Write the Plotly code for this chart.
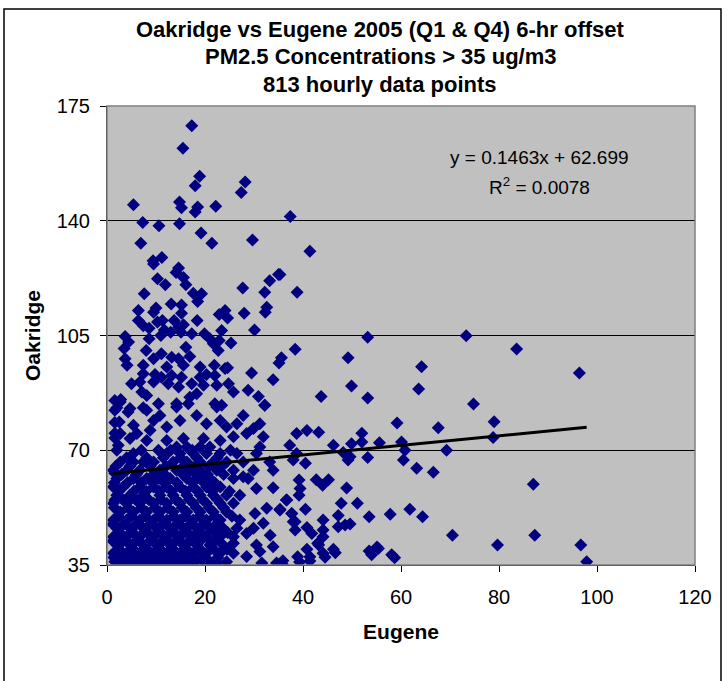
import plotly.graph_objects as go

# ---- data (Eugene = x, Oakridge = y) ----
# sparse / outlying points
sparse_eugene = [
    17.3, 15.5, 18.9, 18.0, 28.2, 27.4, 5.4, 14.8, 15.2, 18.5, 18.0, 22.2, 7.3, 10.6, 14.8, 37.4,
    6.9, 19.2, 21.4, 29.7, 11.2, 9.4, 41.4, 35.3,
    9.5, 14.6, 14.1, 10.3, 11.9, 15.6, 16.1, 35.0, 33.2, 27.7, 32.2, 38.8, 7.6, 17.6, 19.3, 18.5,
    13.1, 15.2, 6.4, 9.5, 10.0, 15.2, 22.9, 24.1, 24.6, 28.0, 32.6, 32.3, 18.4, 13.7, 6.4, 7.4,
    8.6, 10.3, 11.3, 11.7, 13.0, 14.6, 15.6, 15.1, 17.3, 19.9, 23.4, 30.1, 8.6, 11.0, 3.7, 4.4,
    3.5, 8.0, 21.0, 21.7, 22.9, 22.7, 25.3, 16.1, 16.9, 38.4, 35.6, 35.1, 3.7, 4.1, 9.5, 11.1,
    13.2, 14.6, 7.4, 12.2, 15.6, 19.0, 21.9, 24.1, 24.6, 29.5, 33.9, 7.4, 9.8, 11.1, 13.2, 15.2,
    19.0, 20.3, 22.0, 5.0, 6.7, 9.5, 12.5, 14.6, 17.3, 19.7, 22.4, 24.8, 25.8, 28.8, 30.9, 32.2,
    2.8, 7.1, 8.1, 10.5, 14.2, 16.9, 18.3, 22.0, 23.4, 2.0, 4.7, 7.4,
    2.7, 4.3, 2.5, 5.4, 2.7, 6.1, 8.1, 9.5, 10.8, 8.8, 12.2, 14.2, 16.6, 14.9, 18.3, 20.3, 22.4,
    23.1, 24.4, 26.5, 27.8, 29.9, 31.2, 32.2, 31.9, 28.5, 25.8, 23.1, 19.7, 15.6, 12.2, 8.1, 4.7,
    2.3, 37.3, 38.7,
    53.2, 73.3, 83.6, 49.2, 64.2, 96.4, 49.9, 63.6, 43.7, 53.2, 74.8, 59.2, 79.0, 67.6, 40.8, 43.2,
    52.0, 78.8, 46.2, 49.9, 52.0, 55.6, 60.1, 60.8, 69.3, 38.7, 48.2, 49.2, 49.6, 53.2, 38.0, 40.5,
    60.5, 63.2, 66.6, 39.2, 42.7, 44.0, 45.2, 39.4, 39.2, 48.9, 87.0, 36.7, 35.3, 40.5, 47.8, 51.1,
    61.8, 37.7, 47.2, 53.5, 57.8, 64.4, 38.0, 44.1, 38.4, 40.8, 41.8, 44.1, 47.2, 48.6, 49.6, 44.1,
    43.0, 70.5, 87.3, 40.8, 41.4, 38.9, 44.1, 46.2, 53.5, 55.1, 58.1, 35.9, 79.7, 96.7, 97.9,
    54.0, 55.4, 58.7, 46.6, 44.5, 43.2, 41.4, 39.3, 35.8, 35.2,
    27.8, 28.8, 30.5, 33.9, 36.6, 32.6, 35.3, 30.2, 37.7, 38.4, 31.9, 29.9, 33.3, 28.5, 25.8, 30.5,
    33.9, 31.2, 28.5, 34.6, 31.6,
    1.6, 1.6, 1.6, 1.6, 1.6, 1.6, 1.6, 1.6, 1.6, 1.6, 1.6,
]
sparse_oakridge = [
    169.0, 162.1, 153.6, 150.7, 151.8, 148.6, 144.9, 145.7, 144.0, 144.2, 142.7, 144.4, 139.5, 138.5, 139.1, 141.3,
    133.1, 136.3, 133.1, 134.1, 128.8, 127.8, 130.7, 123.6,
    126.8, 125.6, 124.2, 122.3, 120.5, 122.7, 120.5, 123.6, 121.7, 119.5, 118.2, 118.2, 117.7, 117.9, 117.7, 115.4,
    114.6, 114.3, 112.6, 112.1, 113.4, 111.8, 111.4, 112.6, 110.3, 111.8, 113.6, 112.1, 109.6, 109.6, 109.6, 108.0,
    107.2, 109.1, 109.6, 106.7, 106.0, 107.5, 108.3, 106.0, 105.5, 105.5, 106.5, 106.7, 104.0, 105.0, 104.7, 103.0,
    101.0, 100.4, 104.0, 102.5, 103.5, 100.4, 102.7, 101.4, 98.6, 100.8, 98.2, 96.6, 97.9, 95.9, 97.9, 99.4,
    98.4, 97.9, 95.9, 95.4, 95.9, 95.4, 95.9, 94.9, 95.2, 93.6, 91.5, 93.3, 93.1, 92.3, 92.8, 92.3,
    92.3, 93.1, 92.8, 90.3, 90.8, 90.8, 90.3, 89.3, 90.3, 89.8, 89.8, 90.3, 87.8, 88.3, 86.4, 83.7,
    85.5, 87.8, 86.7, 84.2, 84.2, 86.2, 87.2, 84.2, 83.7, 83.0, 82.7, 83.0,
    84.7, 81.7, 78.6, 77.6, 75.1, 75.1, 82.2, 79.1, 80.6, 76.1, 77.1, 83.2, 84.2, 79.1, 80.6, 78.1, 83.2,
    79.1, 77.1, 78.1, 80.6, 76.6, 78.1, 83.7, 74.1, 75.1, 74.1, 73.0, 73.6, 73.6, 73.0, 73.0, 73.6,
    71.5, 71.5, 75.1,
    104.5, 104.9, 100.9, 98.2, 95.5, 93.6, 89.6, 88.7, 86.4, 85.9, 84.1, 78.3, 78.7, 76.9, 76.0, 75.5,
    75.2, 73.9, 71.5, 72.0, 72.5, 72.3, 72.5, 70.0, 70.0, 69.0, 69.3, 67.0, 68.0, 67.8, 67.0, 66.0,
    67.0, 64.5, 63.3, 60.9, 61.0, 59.3, 61.0, 58.3, 56.3, 58.5, 59.6, 54.8, 52.0, 52.0, 53.8, 53.8,
    52.0, 50.7, 50.1, 49.7, 50.5, 49.7, 48.2, 48.7, 45.7, 46.4, 44.6, 45.7, 46.7, 47.2, 47.5, 43.6,
    41.6, 44.1, 44.1, 39.8, 37.5, 37.5, 38.6, 39.8, 39.3, 40.5, 38.1, 36.3, 41.1, 41.1, 36.0,
    38.1, 40.0, 37.2, 38.7, 37.4, 41.1, 36.2, 35.9, 35.2, 35.3,
    61.9, 61.4, 58.3, 58.6, 54.8, 52.3, 51.8, 50.7, 50.7, 48.2, 47.7, 46.2, 44.1, 44.6, 41.6, 41.1,
    40.6, 39.1, 37.6, 35.6, 35.6,
    85.2, 82.2, 78.5, 75.2, 73.7, 63.0, 58.7, 54.8, 48.7, 43.5, 37.4,
]

# dense cluster near the origin: one Oakridge level per row, with the Eugene values seen on it
cluster_levels = [71.0, 70.0, 69.0, 67.7, 66.4, 65.1, 63.9, 62.6, 61.4, 60.1, 58.8, 57.5, 56.3, 55.0,
                  53.8, 52.5, 51.2, 49.9, 48.7, 47.4, 46.2, 44.9, 43.6, 42.3, 41.1, 39.8, 38.6, 37.3,
                  36.0, 35.6]
cluster_eugene = [
    [14.2, 16.3, 19.0, 21.0, 31.2],
    [2.0, 7.0, 10.5, 13.0, 17.4, 25.2],
    [5.4, 12.2, 14.9, 17.6, 20.3, 23.1, 26.5, 30.5],
    [4.0, 8.1, 11.5, 15.0, 18.3, 22.5],
    [2.7, 5.4, 7.4, 9.5, 13.5, 16.3, 19.0, 21.7, 24.4, 27.8, 33.2],
    [1.8, 4.7, 8.8, 12.0, 15.6, 18.0, 20.8, 23.5],
    [1.3, 4.0, 6.7, 10.8, 14.2, 16.9, 19.0, 22.4, 25.8, 29.9, 33.9],
    [3.0, 6.0, 9.5, 11.8, 15.5, 18.2, 20.5, 23.8],
    [2.0, 5.4, 8.1, 10.5, 12.9, 16.3, 19.0, 21.0, 25.8],
    [1.5, 4.2, 7.0, 9.3, 11.7, 14.3, 17.5, 19.8, 22.0],
    [1.3, 3.3, 6.7, 9.5, 12.2, 14.9, 17.6, 20.3, 23.1],
    [2.4, 5.5, 8.0, 10.7, 13.2, 16.0, 18.5, 21.5, 25.0],
    [2.0, 4.7, 7.4, 10.8, 13.5, 16.3, 19.0, 21.7, 24.4, 27.1],
    [3.2, 5.8, 8.5, 11.0, 14.0, 16.8, 19.5, 22.5],
    [1.3, 4.0, 6.7, 9.5, 12.2, 14.9, 17.6, 20.3, 23.1, 25.8],
    [1.5, 4.3, 7.0, 9.8, 12.4, 15.3, 18.2, 20.8, 23.8],
    [2.7, 5.4, 8.1, 10.8, 13.5, 16.3, 19.0, 21.7, 24.4],
    [2.3, 5.0, 7.8, 10.5, 13.6, 16.0, 18.9, 22.0, 25.5],
    [1.3, 4.0, 6.7, 9.5, 12.2, 14.9, 17.6, 20.3, 23.1, 27.1],
    [1.2, 3.4, 6.0, 8.8, 11.4, 14.2, 17.0, 19.6, 22.3],
    [2.0, 4.7, 7.4, 10.1, 12.9, 15.6, 18.3, 21.0, 23.7, 26.5],
    [2.6, 5.3, 8.2, 11.0, 13.7, 16.4, 19.2, 22.0, 24.6],
    [1.3, 4.0, 6.7, 9.5, 12.2, 14.9, 17.6, 20.3, 23.1, 25.8],
    [1.2, 3.3, 5.9, 8.7, 11.3, 14.0, 16.8, 19.0, 22.0],
    [2.0, 4.7, 7.4, 10.1, 12.9, 15.6, 18.3, 21.0, 23.7],
    [2.5, 5.4, 8.2, 10.9, 13.5, 16.3, 19.0, 21.8, 24.5],
    [1.3, 4.0, 6.7, 9.5, 12.2, 14.9, 17.6, 20.3, 23.1, 25.8],
    [1.4, 3.2, 5.6, 8.4, 11.0, 13.7, 16.5, 19.3, 22.6],
    [1.6, 4.4, 7.1, 9.8, 12.5, 15.2, 18.0, 21.0, 24.4],
    [2.8, 5.8, 8.6, 11.4, 14.0, 17.0, 20.0, 22.5],
]

# trendline as printed on the chart
trend_slope = 0.1463
trend_intercept = 62.699
equation_text = "y = 0.1463x + 62.699"
r2_text = "R<sup>2</sup> = 0.0078"

title_lines = ["Oakridge vs Eugene 2005 (Q1 & Q4) 6-hr offset",
               "PM2.5 Concentrations > 35 ug/m3",
               "813 hourly data points"]
x_ticks = [0, 20, 40, 60, 80, 100, 120]
y_ticks = [35, 70, 105, 140, 175]

# ---- build ----
eugene = list(sparse_eugene)
oakridge = list(sparse_oakridge)
for lvl, xs in zip(cluster_levels, cluster_eugene):
    eugene.extend(xs)
    oakridge.extend([lvl] * len(xs))

x_lo, x_hi = min(eugene), max(eugene)

FONT = "Liberation Sans, Arial, sans-serif"

fig = go.Figure()
fig.add_trace(go.Scatter(
    x=eugene, y=oakridge, mode="markers",
    marker=dict(symbol="diamond", size=10, color="#000080", line=dict(width=0)),
    showlegend=False, hoverinfo="x+y"))
fig.add_trace(go.Scatter(
    x=[x_lo, x_hi],
    y=[trend_slope * x_lo + trend_intercept, trend_slope * x_hi + trend_intercept],
    mode="lines", line=dict(color="black", width=3), showlegend=False))

fig.update_layout(
    width=727, height=681,
    margin=dict(l=107, r=32, t=106, b=116),
    paper_bgcolor="white", plot_bgcolor="#C0C0C0",
    font=dict(family=FONT, size=20, color="black"),
    xaxis=dict(range=[0, 120], tickvals=x_ticks, ticks="outside", ticklen=6,
               tickcolor="black", showgrid=False, zeroline=False,
               showline=True, linecolor="black", linewidth=1,
               tickfont=dict(size=20), ticklabelstandoff=8,
               title=dict(text="<b>Eugene</b>", font=dict(size=21), standoff=17)),
    yaxis=dict(range=[35, 175], tickvals=y_ticks, ticks="outside", ticklen=6,
               tickcolor="black", showgrid=True, gridcolor="black", gridwidth=1,
               zeroline=False, showline=True, linecolor="black", linewidth=1,
               tickfont=dict(size=20), ticklabelstandoff=6,
               title=dict(text="<b>Oakridge</b>", font=dict(size=21), standoff=10)),
)

# plot-area frame (grey, like Excel) and outer chart border
fig.add_shape(type="rect", xref="x domain", yref="y domain", x0=0, x1=1, y0=0, y1=1,
              line=dict(color="#808080", width=1.5), layer="above")
fig.add_shape(type="rect", xref="paper", yref="paper",
              x0=-107 / 588 + 4 / 588, x1=1 + 26 / 588, y0=-116 / 459 - 0.02, y1=1 + 97 / 459,
              line=dict(color="black", width=1.5))

# title as three lines
for i, t in enumerate(title_lines):
    fig.add_annotation(text=f"<b>{t}</b>", xref="paper", yref="paper",
                       x=(380 - 107) / 588, y=1 + (77 - 27.5 * i) / 459,
                       showarrow=False, font=dict(size=22), xanchor="center", yanchor="middle")

fig.add_annotation(text=equation_text, xref="paper", yref="paper",
                   x=(539 - 107) / 588, y=(565 - 157) / 459, showarrow=False,
                   font=dict(size=19), xanchor="center", yanchor="middle")
fig.add_annotation(text=r2_text, xref="paper", yref="paper",
                   x=(539 - 107) / 588, y=(565 - 186) / 459, showarrow=False,
                   font=dict(size=19), xanchor="center", yanchor="middle")

fig.write_html("out.html")
